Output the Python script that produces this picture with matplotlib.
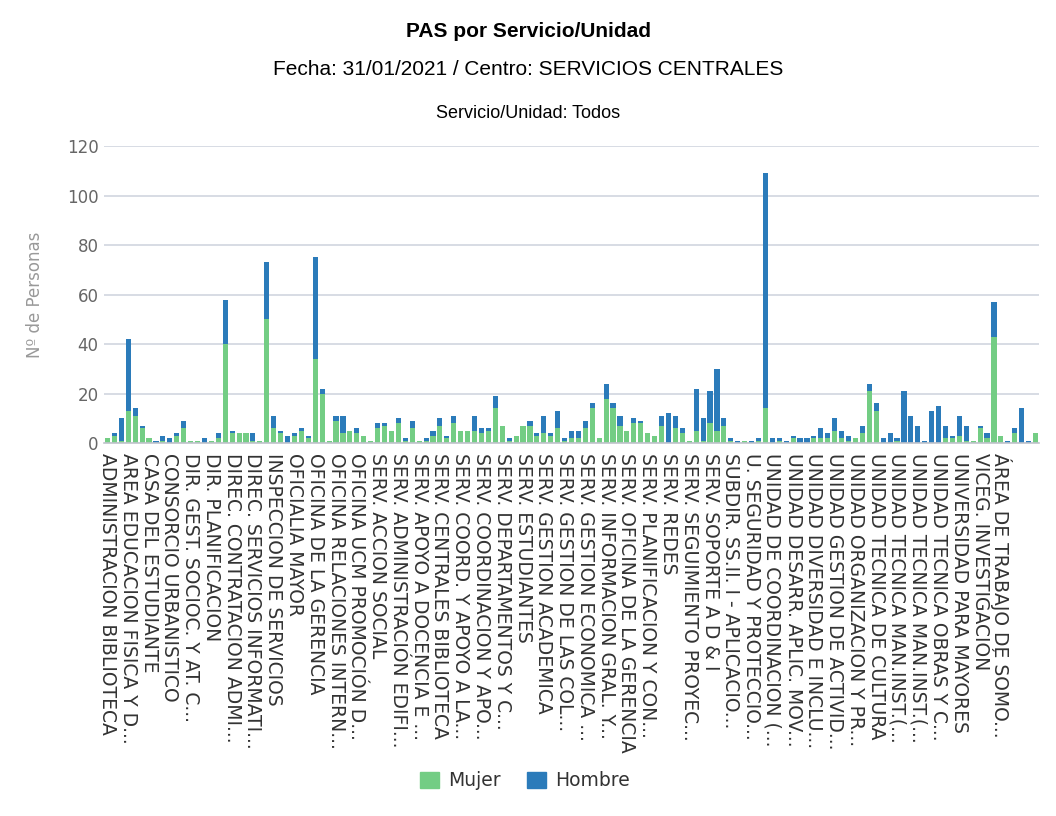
import numpy as np
import matplotlib.pyplot as plt
from matplotlib.patches import Patch

# PAS por servicio/unidad (mujeres / hombres), una barra por servicio
mujer = [2, 3, 1, 13, 11, 6, 2, 0, 1, 0, 3, 6, 1, 1, 0, 1, 2, 40, 4, 4,
         4, 1, 1, 50, 6, 4, 0, 3, 5, 2, 34, 20, 1, 9, 4, 5, 4, 3, 1, 6,
         7, 5, 8, 1, 6, 1, 1, 3, 7, 2, 8, 5, 5, 5, 4, 5, 14, 7, 1, 3,
         7, 7, 3, 4, 3, 6, 1, 2, 2, 6, 14, 2, 18, 14, 7, 5, 8, 8, 4, 3,
         7, 0, 6, 4, 1, 5, 1, 8, 5, 7, 1, 0, 1, 0, 1, 14, 0, 1, 0, 2,
         0, 0, 2, 2, 2, 5, 2, 1, 2, 4, 21, 13, 0, 0, 1, 0, 0, 0, 0, 0,
         0, 2, 2, 3, 1, 1, 6, 2, 43, 3, 0, 4, 0, 0, 4]
hombre = [0, 1, 9, 29, 3, 1, 0, 1, 2, 2, 1, 3, 0, 0, 2, 0, 2, 18, 1, 0,
          0, 3, 0, 23, 5, 1, 3, 1, 1, 1, 41, 2, 0, 2, 7, 0, 2, 0, 0, 2,
          1, 0, 2, 1, 3, 0, 1, 2, 3, 1, 3, 0, 0, 6, 2, 1, 5, 0, 1, 0,
          0, 2, 1, 7, 1, 7, 1, 3, 3, 3, 2, 0, 6, 2, 4, 0, 2, 1, 0, 0,
          4, 12, 5, 2, 0, 17, 9, 13, 25, 3, 1, 1, 0, 1, 1, 95, 2, 1, 1, 1,
          2, 2, 1, 4, 2, 5, 3, 2, 0, 3, 3, 3, 2, 4, 1, 21, 11, 7, 1, 13,
          15, 5, 1, 8, 6, 0, 1, 2, 14, 0, 1, 2, 14, 1, 0]

# solo se muestra una etiqueta de cada tres
etiquetas = [
    "ADMINISTRACION BIBLIOTECA", "AREA EDUCACION FISICA Y D...", "CASA DEL ESTUDIANTE",
    "CONSORCIO URBANISTICO", "DIR. GEST. SOCIOC. Y AT. C...", "DIR. PLANIFICACION",
    "DIREC. CONTRATACION ADMI...", "DIREC. SERVICIOS INFORMATI...", "INSPECCION DE SERVICIOS",
    "OFICIALIA MAYOR", "OFICINA DE LA GERENCIA", "OFICINA RELACIONES INTERN...",
    "OFICINA UCM PROMOCIÓN D...", "SERV. ACCION SOCIAL", "SERV. ADMINISTRACIÓN EDIFI...",
    "SERV. APOYO A DOCENCIA E ...", "SERV. CENTRALES BIBLIOTECA", "SERV. COORD. Y APOYO A LA...",
    "SERV. COORDINACION Y APO...", "SERV. DEPARTAMENTOS Y C...", "SERV. ESTUDIANTES",
    "SERV. GESTION ACADEMICA", "SERV. GESTION DE LAS COL...", "SERV. GESTION ECONOMICA ...",
    "SERV. INFORMACION GRAL. Y...", "SERV. OFICINA DE LA GERENCIA", "SERV. PLANIFICACION Y CON...",
    "SERV. REDES", "SERV. SEGUIMIENTO PROYEC...", "SERV. SOPORTE A D & I",
    "SUBDIR. SS.II. I - APLICACIO...", "U. SEGURIDAD Y PROTECCIO...", "UNIDAD DE COORDINACION (...",
    "UNIDAD DESARR. APLIC. MOV...", "UNIDAD DIVERSIDAD E INCLU...", "UNIDAD GESTION DE ACTIVID...",
    "UNIDAD ORGANIZACION Y PR...", "UNIDAD TECNICA DE CULTURA", "UNIDAD TECNICA MAN.INST.(...",
    "UNIDAD TECNICA MAN.INST.(...", "UNIDAD TECNICA OBRAS Y C...", "UNIVERSIDAD PARA MAYORES",
    "VICEG. INVESTIGACIÓN", "ÁREA DE TRABAJO DE SOMO...",
]

verde = "#73cd84"
azul = "#2b7bba"

x = np.arange(len(mujer))

fig = plt.figure(figsize=(10.56, 8.16), dpi=100)
ax = fig.add_axes([0.0985, 0.457, 0.8854, 0.364])

ax.bar(x, mujer, width=0.74, color=verde, zorder=2)
ax.bar(x, hombre, bottom=mujer, width=0.74, color=azul, zorder=2)

ax.set_xlim(-0.5, len(x) - 0.5)
ax.set_ylim(0, 120)
ax.set_yticks(range(0, 121, 20))
ax.yaxis.grid(True, color="#d7dce4", lw=1.4, zorder=0)
for s in ["top", "right", "left"]:
    ax.spines[s].set_visible(False)
ax.spines["bottom"].set_color("#c0c4cc")
ax.spines["bottom"].set_linewidth(1.2)

ax.set_xticks([3 * i for i in range(len(etiquetas))])
ax.set_xticklabels(etiquetas, rotation=-90, ha="center", va="top",
                   fontsize=13.5, color="#333333", family="DejaVu Sans")
ax.tick_params(axis="x", length=0, pad=7)
ax.tick_params(axis="y", length=0, pad=4, labelsize=12, labelcolor="#666666")

ax.set_ylabel("Nº de Personas", fontsize=12, color="#999999", labelpad=16)

fig.text(0.5, 0.962, "PAS por Servicio/Unidad", ha="center", va="center",
         fontsize=15, fontweight="bold", family="Liberation Sans")
fig.text(0.5, 0.915, "Fecha: 31/01/2021 / Centro: SERVICIOS CENTRALES", ha="center",
         va="center", fontsize=15, family="Liberation Sans")
fig.text(0.5, 0.861, "Servicio/Unidad: Todos", ha="center", va="center",
         fontsize=13, family="Liberation Sans")

handles = [Patch(color=verde, label="Mujer"), Patch(color=azul, label="Hombre")]
fig.legend(handles=handles, loc="center", bbox_to_anchor=(0.497, 0.043), ncol=2,
           frameon=False, fontsize=13.5, handlelength=1.0, handleheight=1.0,
           handletextpad=0.5, columnspacing=1.4, labelcolor="#333333")

fig.savefig("out.png", dpi=100)
